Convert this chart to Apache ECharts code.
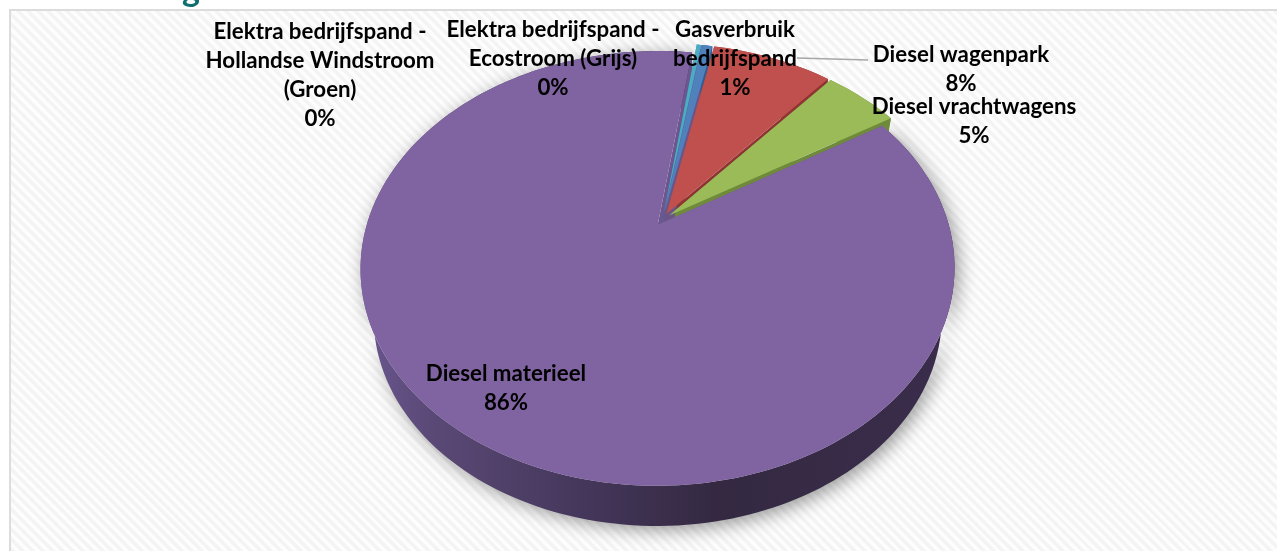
<!DOCTYPE html>
<html><head><meta charset="utf-8">
<style>
html,body{margin:0;padding:0;background:#fff;overflow:hidden}
#bg{position:absolute;left:9px;top:9px;width:1268px;height:542px;box-sizing:border-box;border-left:2px solid #dcdcdc;border-top:2px solid #dcdcdc;
background:repeating-linear-gradient(45deg,#f4f4f4 0,#f4f4f4 3.5px,#fdfdfd 3.5px,#fdfdfd 7px)}
#c{position:absolute;left:0;top:0;width:1277px;height:551px}
</style>
<script src="https://cdn.jsdelivr.net/npm/echarts@6/dist/echarts.min.js"></script>
</head><body><div id="bg"></div><div id="c"></div>
<script>
// Data (clockwise from the first slice)
const categories = ['Gasverbruik bedrijfspand','Diesel wagenpark','Diesel vrachtwagens','Diesel materieel','Elektra bedrijfspand - Ecostroom (Grijs)','Elektra bedrijfspand - Hollandse Windstroom (Groen)'];
const values = [0.7, 8, 5, 86, 0.3, 0.02];
const percentLabels = ['1%','8%','5%','86%','0%','0%'];
const labelLines = [
  ['Gasverbruik','bedrijfspand'],['Diesel wagenpark'],['Diesel vrachtwagens'],['Diesel materieel'],
  ['Elektra bedrijfspand -','Ecostroom (Grijs)'],['Elektra bedrijfspand -','Hollandse Windstroom','(Groen)']
];
// Layout / style (separate from data)
const colors = ['#4f81bd','#c0504d','#9bbb59','#8064a2','#4bacc6','#8064a2'];
const wallColors = ['#2f5f94','#8f3432','#6f8a3a',null,'#2f7f96','#6a5488'];
const labelCenters = [[735,30],[961,55],[974,107],[506,374],[553,30],[320,32]];
const lineH = 29, startDeg = 9.1, explode = 0.03;
const P = {cx:662.5, cy:219.5, R:289.5, Rs:206.5, k:0.2};
const L = {cx:662.5, cy:270, R:277, Rs:199, k:0.198};
function proj(pl,u,v){const w=1+pl.k*v;return [pl.cx+pl.R*u/w, pl.cy-pl.Rs*v/w];}
const total = values.reduce((a,b)=>a+b,0);
const starts=[];let acc=startDeg;values.forEach(v=>{starts.push(acc);acc+=v/total*360;});

function arc(a0,a1,off,pl){const pts=[];const n=Math.max(2,Math.ceil((a1-a0)/1.5));
  for(let i=0;i<=n;i++){const t=(a0+(a1-a0)*i/n)*Math.PI/180;pts.push(proj(pl,Math.sin(t)+off[0],Math.cos(t)+off[1]));}
  return pts;}
const rimFill={type:'linear',x:0,y:0,x2:1,y2:0,colorStops:[
  {offset:0,color:'#6a5690'},{offset:0.12,color:'#5a4976'},{offset:0.4,color:'#423558'},{offset:0.6,color:'#342941'},{offset:1,color:'#3a2d4c'}]};

function renderSlice(params,api){
  const i=api.value(0), val=api.value(1);
  const a0=starts[i], a1=a0+val/total*360, mid=(a0+a1)/2*Math.PI/180;
  const off=[Math.sin(mid)*explode,Math.cos(mid)*explode];
  const top=arc(a0,a1,off,P), low=arc(a0,a1,off,L);
  const cT=proj(P,off[0],off[1]), cL=proj(L,off[0],off[1]);
  const col=colors[i], wc=wallColors[i];
  const kids=[];
  kids.push({type:'polygon',z2:2,shape:{points:top.concat(low.slice().reverse())},
    style:i===3?{fill:rimFill,shadowBlur:18,shadowColor:'rgba(0,0,0,0.4)',shadowOffsetX:4,shadowOffsetY:4}:{fill:wc}});
  const w=wc||'#6d5690';
  kids.push({type:'polygon',z2:3,shape:{points:[cT,top[0],low[0],cL]},style:{fill:w}});
  kids.push({type:'polygon',z2:3,shape:{points:[cT,top[top.length-1],low[low.length-1],cL]},style:{fill:w}});
  kids.push({type:'polygon',z2:i===3?10:(i===5?10.5:11),shape:{points:[cT].concat(top)},style:{fill:col}});
  const c=labelCenters[i];
  labelLines[i].concat([percentLabels[i]]).forEach((t,j)=>{
    kids.push({type:'text',z2:30,style:{text:t,x:c[0],y:c[1]+j*lineH,align:'center',verticalAlign:'middle',
      font:'bold 22.3px Lato, Carlito, sans-serif',fill:'#000'}});
  });
  if(i===1){kids.push({type:'polyline',z2:20,shape:{points:[[797,58],[868,60]]},style:{stroke:'#a6a6a6',lineWidth:1.5,fill:'none'}});}
  return {type:'group',children:kids};
}
const chart=echarts.init(document.getElementById('c'),null,{renderer:'canvas'});
chart.setOption({
  animation:false,
  backgroundColor:'transparent',
  graphic:[{type:'text',left:182,top:-27,style:{text:'g',font:'bold 34px Lato, sans-serif',fill:'#0f6f70'},z:10}],
  series:[{type:'custom',coordinateSystem:'none',renderItem:renderSlice,
    data:categories.map((n,i)=>({name:n,value:[i,values[i]]}))}]
});
</script></body></html>
